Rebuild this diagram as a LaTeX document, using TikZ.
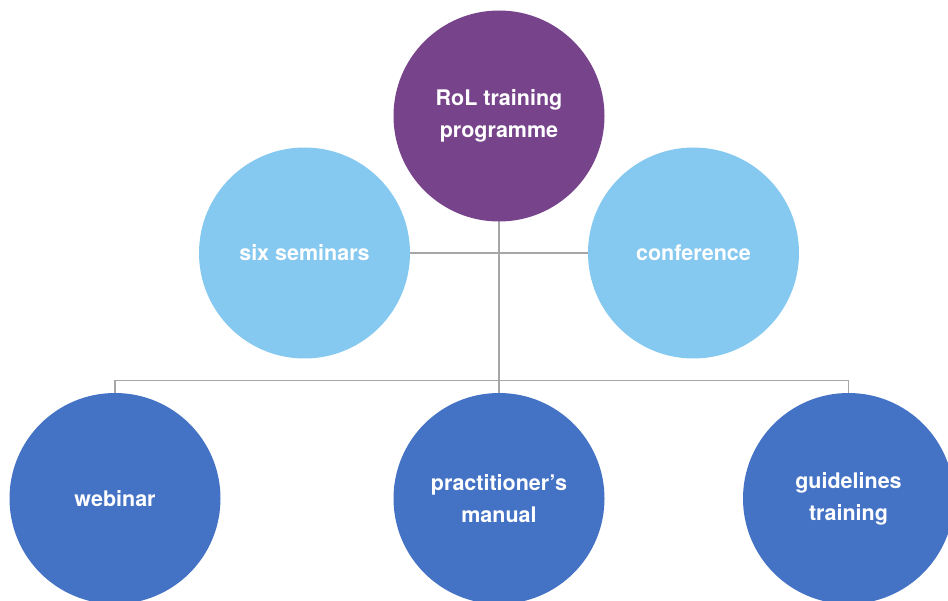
\documentclass[tikz,border=0pt]{standalone}
\usepackage{fontspec}
\setmainfont{TeX Gyre Heros}
\usepackage{tikz}

\definecolor{rolpurple}{HTML}{77448B}
\definecolor{rollight}{HTML}{85C8F0}
\definecolor{roldark}{HTML}{4472C4}
\definecolor{rolline}{HTML}{A6A6A6}

\begin{document}
\begin{tikzpicture}[x=1pt,y=-1pt,
    bubble/.style={circle, minimum size=211pt, inner sep=0pt, text=white,
      align=center, font=\fontsize{21.5}{32}\selectfont\bfseries},
    main/.style={bubble, fill=rolpurple},
    side/.style={bubble, fill=rollight},
    leaf/.style={bubble, fill=roldark},
    link/.style={draw=rolline, line width=1.2pt}
    ]
    \useasboundingbox (0,0) rectangle (948,601);
    \clip (0,0) rectangle (948,601);
    % links behind the bubbles
    \coordinate (bar) at (499,380.5);
    \draw[link] (499,116) -- (499,498.5);
    \draw[link] (304.5,253) -- (693.5,253);
    \draw[link] (115,498.5) |- (bar) -| (848.5,498.5);
    % bubbles
    \node[main] (rol) at (499,116) {RoL training\\programme};
    \node[side] (seminars) at (304.5,253) {six seminars};
    \node[side] (conference) at (693.5,253) {conference};
    \node[leaf] (webinar) at (115,498.5) {webinar};
    \node[leaf] (manual) at (499,498.5) {practitioner’s\\manual};
    \node[leaf] (guidelines) at (848.5,498.5) {guidelines\\training};
  \end{tikzpicture}
\end{document}
